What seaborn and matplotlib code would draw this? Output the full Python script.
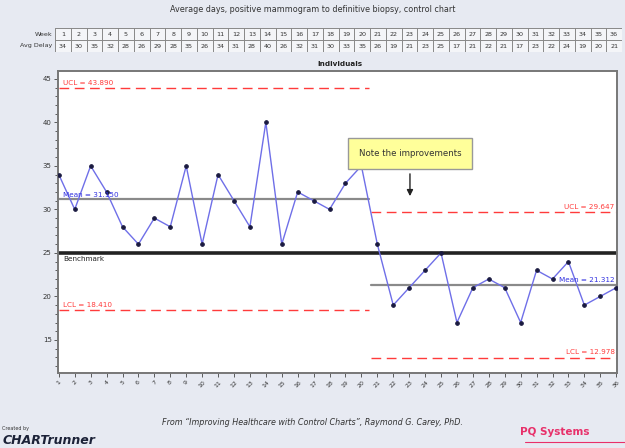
import numpy as np
import pandas as pd
import matplotlib
matplotlib.use("Agg")
import matplotlib.pyplot as plt
import seaborn as sns
from matplotlib.ticker import MultipleLocator, FixedLocator
from matplotlib.patches import Rectangle

# ---------------- data ----------------
weeks = list(range(1, 37))
avg_delay = [34, 30, 35, 32, 28, 26, 29, 28, 35, 26, 34, 31, 28, 40, 26, 32, 31, 30, 33, 35,
             26, 19, 21, 23, 25, 17, 21, 22, 21, 17, 23, 22, 24, 19, 20, 21]
phase1_last_week = 20
benchmark = 25
title = "Average days, positive mammogram to definitive biopsy, control chart"
subtitle = "Individuals"
note = "Note the improvements"
footer = "From \u201cImproving Healthcare with Control Charts\u201d, Raymond G. Carey, PhD."
y_ticks = [15, 20, 25, 30, 35, 40, 45]

df = pd.DataFrame({"Week": weeks, "Avg Delay": avg_delay})

def limits(vals):
    v = np.asarray(vals, dtype=float)
    m = v.mean()
    mr = np.abs(np.diff(v)).mean()
    return m + 2.66 * mr, m, m - 2.66 * mr

p1 = df[df.Week <= phase1_last_week]["Avg Delay"].values
p2 = df[df.Week > phase1_last_week]["Avg Delay"].values
ucl1, mean1, lcl1 = limits(p1)
ucl2, mean2, lcl2 = limits(p2)

# ---------------- figure ----------------
sns.set_theme(style="white")
plt.rcParams['font.family'] = ['DejaVu Sans']
W, H = 625, 448
bg = "#e7eaf2"
fig = plt.figure(figsize=(W / 100, H / 100), dpi=100, facecolor=bg)

def fx(px):
    return px / W

def fy(py):
    return 1 - py / H

ax = fig.add_axes([fx(58), fy(373), fx(617) - fx(58), fy(71) - fy(373)])
ax.set_facecolor("white")

brk = phase1_last_week + 0.5
red = "#ff3b3b"
grey = "#8a8a8a"
blue = "#3030e0"

# control limit lines
dash = (0, (7, 4))
ax.plot([1, brk], [ucl1, ucl1], color=red, lw=1.0, linestyle=dash, zorder=2)
ax.plot([1, brk], [lcl1, lcl1], color=red, lw=1.0, linestyle=dash, zorder=2)
ax.plot([1, brk], [mean1, mean1], color=grey, lw=1.6, zorder=2)
ax.plot([brk + 0.1, 36], [ucl2, ucl2], color=red, lw=1.0, linestyle=dash, zorder=2)
ax.plot([brk + 0.1, 36], [lcl2, lcl2], color=red, lw=1.0, linestyle=dash, zorder=2)
ax.plot([brk + 0.1, 36], [mean2, mean2], color=grey, lw=1.6, zorder=2)
ax.axhline(benchmark, color="#222222", lw=2.6, zorder=2)

# data
sns.lineplot(data=df, x="Week", y="Avg Delay", ax=ax, color="#6f6fe8", lw=1.0,
             marker="o", markersize=2.6, markerfacecolor="#1a1a40",
             markeredgecolor="#1a1a40", zorder=3)

fs = 5.2
ax.text(1.25, ucl1 + 0.3, f"UCL = {ucl1:.3f}", color=red, fontsize=fs, va="bottom", ha="left")
ax.text(1.25, mean1 + 0.2, f"Mean = {mean1:.3f}", color=blue, fontsize=fs, va="bottom", ha="left")
ax.text(1.25, lcl1 + 0.3, f"LCL = {lcl1:.3f}", color=red, fontsize=fs, va="bottom", ha="left")
ax.text(35.9, ucl2 + 0.3, f"UCL = {ucl2:.3f}", color=red, fontsize=fs, va="bottom", ha="right")
ax.text(35.9, mean2 + 0.2, f"Mean = {mean2:.3f}", color=blue, fontsize=fs, va="bottom", ha="right")
ax.text(35.9, lcl2 + 0.3, f"LCL = {lcl2:.3f}", color=red, fontsize=fs, va="bottom", ha="right")
ax.text(1.25, benchmark - 0.35, "Benchmark", color="#222222", fontsize=fs, va="top", ha="left")

# annotation
ax.annotate("", xy=(23.05, 31.2), xytext=(23.05, 34.4),
            arrowprops=dict(arrowstyle="-|>", color="#222222", lw=1.0, mutation_scale=9),
            zorder=4)
ax.text(23.05, 36.4, note, fontsize=6.2, ha="center", va="center", color="#333333", zorder=5,
        bbox=dict(boxstyle="square,pad=1.25", facecolor="#ffff9a", edgecolor="#999999", lw=1))

ax.set_xlim(0.95, 36.05)
ax.set_ylim(11.2, 45.9)
ax.xaxis.set_major_locator(FixedLocator(weeks))
ax.set_xticklabels([str(w) for w in weeks], rotation=45, fontsize=4.5, color="#333333")
ax.yaxis.set_major_locator(FixedLocator(y_ticks))
ax.yaxis.set_minor_locator(MultipleLocator(1))
ax.set_yticklabels([str(t) for t in y_ticks], fontsize=5, color="#333333")
ax.tick_params(axis="both", which="both", direction="out", length=3, width=0.6,
               color="#444444", left=True, bottom=True, pad=1.5)
ax.tick_params(axis="y", which="minor", length=2)
ax.set_xlabel("")
ax.set_ylabel("")
for s in ax.spines.values():
    s.set_color("#777777")
    s.set_linewidth(1.4)

# ---------------- header table ----------------
tax = fig.add_axes([fx(55), fy(52), fx(622) - fx(55), fy(28) - fy(52)])
tax.set_xlim(0, 36)
tax.set_ylim(0, 2)
tax.add_patch(Rectangle((0, 0), 36, 2, facecolor="#f4f5f8", edgecolor="none"))
for i in range(37):
    tax.plot([i, i], [0, 2], color="#888888", lw=0.7)
for j in range(3):
    tax.plot([0, 36], [j, j], color="#888888", lw=0.7)
for i, (w, v) in enumerate(zip(weeks, avg_delay)):
    tax.text(i + 0.5, 1.5, str(w), ha="center", va="center", fontsize=4.6, color="#333333")
    tax.text(i + 0.5, 0.5, str(v), ha="center", va="center", fontsize=4.6, color="#333333")
tax.axis("off")
fig.text(fx(52), fy(34), "Week", ha="right", va="center", fontsize=4.6, color="#333333")
fig.text(fx(52), fy(46), "Avg Delay", ha="right", va="center", fontsize=4.6, color="#333333")

# ---------------- titles and footer ----------------
fig.text(fx(313), fy(9), title, ha="center", va="center", fontsize=5.8, color="#333333")
fig.text(fx(340), fy(64), subtitle, ha="center", va="center", fontsize=5.2,
         fontweight="bold", color="#222222")
fig.text(fx(312), fy(422), footer, ha="center", va="center", fontsize=5.8,
         style="italic", color="#333333")
fig.text(fx(2), fy(428), "Created by", ha="left", va="center", fontsize=3.5, color="#333333")
fig.text(fx(3), fy(440), "CHARTrunner", ha="left", va="center", fontsize=9,
         style="italic", fontweight="bold", color="#1c2238")
fig.text(fx(555), fy(432), "PQ Systems", ha="center", va="center", fontsize=7.5,
         fontweight="bold", color="#e8306a")
fig.add_artist(plt.Line2D([fx(525), fx(625)], [fy(442), fy(442)], color="#e8306a", lw=0.8))

fig.savefig("out.png", dpi=100, facecolor=bg)
